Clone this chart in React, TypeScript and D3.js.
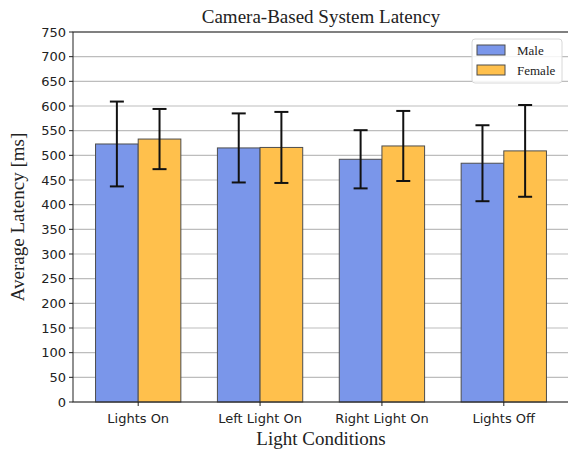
import React from 'react';
import * as d3 from 'd3';

const categories = ['Lights On', 'Left Light On', 'Right Light On', 'Lights Off'];
const seriesNames = ['Male', 'Female'];
const maleMeans = [523, 515, 492, 484];
const maleSd = [86, 70, 59, 77];
const femaleMeans = [533, 516, 519, 509];
const femaleSd = [61, 72, 71, 93];
const yTicks = [0, 50, 100, 150, 200, 250, 300, 350, 400, 450, 500, 550, 600, 650, 700, 750];

const colors = ['#7a96ea', '#ffc04c'];

const width = 568;
const height = 451;
const margin = { top: 32, right: 0, bottom: 49, left: 73 };
const plotRight = 569;

function App() {
  const x = d3.scaleLinear().domain([-0.535, 3.535]).range([margin.left, plotRight]);
  const y = d3.scaleLinear().domain([0, 750]).range([height - margin.bottom, margin.top]);
  const barW = x(0.35) - x(0);

  const series = [
    { name: seriesNames[0], means: maleMeans, sd: maleSd, offset: -0.175, color: colors[0] },
    { name: seriesNames[1], means: femaleMeans, sd: femaleSd, offset: 0.175, color: colors[1] },
  ];

  const tickFont = '"DejaVu Sans", sans-serif';
  const serif = '"Liberation Serif", "Times New Roman", serif';

  return (
    <svg width={width} height={height} style={{ position: 'absolute', left: 0, top: 0, background: '#fff' }}>
      {/* grid */}
      {yTicks.map((t) => (
        <line key={'g' + t} x1={margin.left} x2={plotRight} y1={y(t)} y2={y(t)} stroke="#bdbdbd" strokeWidth={1.2} />
      ))}

      {/* bars */}
      {series.map((s) =>
        categories.map((c, i) => (
          <rect
            key={s.name + c}
            x={x(i + s.offset) - barW / 2}
            y={y(s.means[i])}
            width={barW}
            height={y(0) - y(s.means[i])}
            fill={s.color}
            stroke="#4d4d4d"
            strokeWidth={1}
          />
        ))
      )}

      {/* error bars */}
      {series.map((s) =>
        categories.map((c, i) => {
          const cx = x(i + s.offset);
          const top = y(s.means[i] + s.sd[i]);
          const bot = y(s.means[i] - s.sd[i]);
          return (
            <g key={'e' + s.name + c} stroke="#111" strokeWidth={2}>
              <line x1={cx} x2={cx} y1={top} y2={bot} />
              <line x1={cx - 7} x2={cx + 7} y1={top} y2={top} />
              <line x1={cx - 7} x2={cx + 7} y1={bot} y2={bot} />
            </g>
          );
        })
      )}

      {/* spines */}
      <rect x={margin.left} y={margin.top} width={plotRight - margin.left} height={y(0) - margin.top} fill="none" stroke="#222" strokeWidth={1} />

      {/* y ticks */}
      {yTicks.map((t) => (
        <g key={'yt' + t}>
          <line x1={margin.left - 4} x2={margin.left} y1={y(t)} y2={y(t)} stroke="#222" />
          <text x={margin.left - 7} y={y(t)} dy="0.35em" textAnchor="end" fontSize={13} fontFamily={tickFont} fill="#222">
            {t}
          </text>
        </g>
      ))}

      {/* x ticks */}
      {categories.map((c, i) => (
        <g key={'xt' + c}>
          <line x1={x(i)} x2={x(i)} y1={y(0)} y2={y(0) + 4} stroke="#222" />
          <text x={x(i)} y={y(0) + 21} textAnchor="middle" fontSize={13} fontFamily={tickFont} fill="#222">
            {c}
          </text>
        </g>
      ))}

      {/* titles */}
      <text x={(margin.left + plotRight) / 2} y={23} textAnchor="middle" fontSize={19} fontFamily={serif} fill="#222">
        Camera-Based System Latency
      </text>
      <text x={(margin.left + plotRight) / 2} y={445} textAnchor="middle" fontSize={19} fontFamily={serif} fill="#222">
        Light Conditions
      </text>
      <text
        transform={`translate(24, ${(margin.top + y(0)) / 2}) rotate(-90)`}
        textAnchor="middle"
        fontSize={19}
        fontFamily={serif}
        fill="#222"
      >
        Average Latency [ms]
      </text>

      {/* legend */}
      <g>
        <rect x={472} y={39} width={90} height={44} rx={3} fill="#fff" fillOpacity={0.85} stroke="#d8d8d8" />
        {series.map((s, i) => (
          <g key={'lg' + s.name}>
            <rect x={477} y={45 + i * 20} width={28} height={10} fill={s.color} stroke="#4d4d4d" />
            <text x={517} y={50 + i * 20} dy="0.35em" fontSize={13} fontFamily={serif} fill="#222">
              {s.name}
            </text>
          </g>
        ))}
      </g>
    </svg>
  );
}

export default App;
